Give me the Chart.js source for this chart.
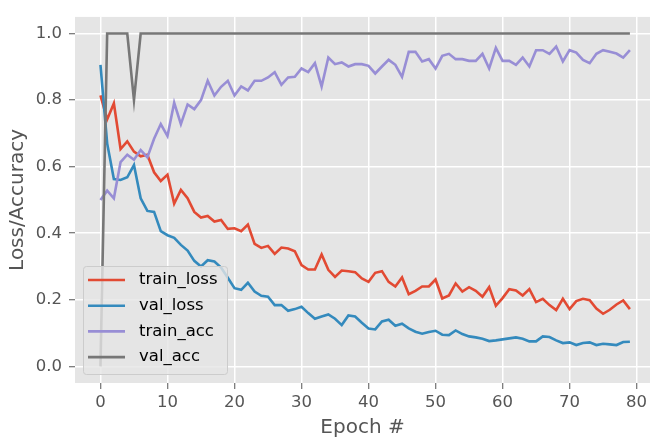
<!DOCTYPE html>
<html>
<head>
<meta charset="utf-8">
<script src="https://cdn.jsdelivr.net/npm/chart.js@4.4.1/dist/chart.umd.min.js"></script>
<style>
html,body{margin:0;padding:0;background:#fff;}
#wrap{width:654px;height:442px;}
</style>
</head>
<body>
<div id="wrap"><canvas id="c" width="654" height="442"></canvas></div>
<script>
const epochs = Array.from({length: 80}, (_, i) => i);
const seriesNames = ["train_loss", "val_loss", "train_acc", "val_acc"];
const trainLoss = [0.814,0.742,0.790,0.653,0.676,0.645,0.631,0.636,0.583,0.557,
0.576,0.489,0.530,0.505,0.464,0.447,0.452,0.435,0.440,0.413,
0.415,0.406,0.426,0.368,0.356,0.362,0.338,0.357,0.354,0.346,
0.304,0.291,0.291,0.336,0.290,0.269,0.288,0.286,0.283,0.264,
0.254,0.281,0.286,0.254,0.240,0.267,0.217,0.227,0.240,0.240,
0.261,0.204,0.213,0.249,0.225,0.238,0.227,0.209,0.238,0.182,
0.205,0.232,0.228,0.213,0.232,0.193,0.203,0.184,0.169,0.203,
0.172,0.196,0.203,0.199,0.174,0.158,0.170,0.186,0.198,0.172];
const valLoss = [0.906,0.670,0.563,0.560,0.568,0.605,0.505,0.467,0.464,0.406,
0.394,0.386,0.365,0.348,0.317,0.300,0.319,0.315,0.297,0.266,
0.235,0.230,0.251,0.225,0.212,0.209,0.184,0.184,0.167,0.172,
0.179,0.160,0.143,0.150,0.156,0.143,0.124,0.153,0.150,0.131,
0.114,0.111,0.135,0.140,0.122,0.128,0.114,0.104,0.098,0.103,
0.107,0.095,0.094,0.108,0.097,0.090,0.087,0.083,0.076,0.078,
0.081,0.084,0.087,0.083,0.075,0.075,0.090,0.088,0.078,0.070,
0.072,0.064,0.070,0.072,0.064,0.068,0.066,0.064,0.073,0.074];
const trainAcc = [0.500,0.528,0.505,0.614,0.636,0.621,0.650,0.628,0.684,0.728,
0.692,0.792,0.728,0.787,0.773,0.800,0.858,0.814,0.840,0.858,
0.814,0.841,0.829,0.858,0.858,0.868,0.884,0.846,0.868,0.870,
0.895,0.884,0.911,0.841,0.928,0.908,0.913,0.901,0.908,0.908,
0.903,0.880,0.901,0.921,0.906,0.870,0.945,0.945,0.916,0.923,
0.895,0.933,0.939,0.923,0.923,0.918,0.918,0.939,0.895,0.957,
0.918,0.918,0.906,0.928,0.901,0.950,0.950,0.939,0.961,0.916,
0.950,0.943,0.921,0.911,0.939,0.950,0.945,0.940,0.928,0.950];
const valAcc = [0.0,1.0,1.0,1.0,1.0,0.8,1.0,1.0,1.0,1.0,
1.0,1.0,1.0,1.0,1.0,1.0,1.0,1.0,1.0,1.0,
1.0,1.0,1.0,1.0,1.0,1.0,1.0,1.0,1.0,1.0,
1.0,1.0,1.0,1.0,1.0,1.0,1.0,1.0,1.0,1.0,
1.0,1.0,1.0,1.0,1.0,1.0,1.0,1.0,1.0,1.0,
1.0,1.0,1.0,1.0,1.0,1.0,1.0,1.0,1.0,1.0,
1.0,1.0,1.0,1.0,1.0,1.0,1.0,1.0,1.0,1.0,
1.0,1.0,1.0,1.0,1.0,1.0,1.0,1.0,1.0,1.0];
const xTicks = [0,10,20,30,40,50,60,70,80];
const yTicks = [0.0,0.2,0.4,0.6,0.8,1.0];
const xTitle = "Epoch #";
const yTitle = "Loss/Accuracy";

const colors = ["#E24A33", "#348ABD", "#988ED5", "#777777"];
const allSeries = [trainLoss, valLoss, trainAcc, valAcc];
const FONT = "DejaVu Sans";
const TICK_SIZE = 16.5, TITLE_SIZE = 20, LEGEND_SIZE = 16.5;
const LINE_W = 2.6;

const datasets = allSeries.map((vals, i) => ({
  label: seriesNames[i],
  data: vals.map((v, j) => ({x: epochs[j], y: v})),
  borderColor: colors[i],
  backgroundColor: colors[i],
  borderWidth: LINE_W,
  pointRadius: 0,
  tension: 0,
  fill: false,
  order: 4 - i
}));

const bgPlugin = {
  id: 'bg',
  beforeDraw(chart) {
    const {ctx, chartArea: a} = chart;
    ctx.save();
    ctx.fillStyle = '#E5E5E5';
    ctx.fillRect(a.left, a.top, a.right - a.left, a.bottom - a.top);
    ctx.restore();
  }
};

const legendPlugin = {
  id: 'mplLegend',
  afterDatasetsDraw(chart) {
    const {ctx, chartArea: a} = chart;
    const x0 = a.left + 8, w = 144, h = 108;
    const y0 = a.bottom - 9 - h;
    ctx.save();
    ctx.beginPath();
    ctx.roundRect(x0 + 0.5, y0 + 0.5, w, h, 3);
    ctx.fillStyle = 'rgba(229,229,229,0.8)';
    ctx.fill();
    ctx.strokeStyle = '#CCCCCC';
    ctx.lineWidth = 1;
    ctx.stroke();
    ctx.font = LEGEND_SIZE + 'px "' + FONT + '"';
    ctx.textBaseline = 'middle';
    ctx.textAlign = 'left';
    chart.data.datasets.forEach((ds, i) => {
      const cy = y0 + 14 + i * 25.7;
      ctx.beginPath();
      ctx.moveTo(x0 + 5, cy);
      ctx.lineTo(x0 + 42, cy);
      ctx.strokeStyle = ds.borderColor;
      ctx.lineWidth = LINE_W;
      ctx.stroke();
      ctx.fillStyle = '#000000';
      ctx.fillText(ds.label, x0 + 56, cy);
    });
    ctx.restore();
  }
};

new Chart(document.getElementById('c'), {
  type: 'line',
  data: {datasets},
  plugins: [bgPlugin, legendPlugin],
  options: {
    responsive: false,
    animation: false,
    devicePixelRatio: 1,
    layout: {padding: {top: 4, right: 4, left: 0, bottom: 0}},
    plugins: {legend: {display: false}, tooltip: {enabled: false}},
    scales: {
      x: {
        type: 'linear',
        min: -3.8, max: 82,
        afterBuildTicks: s => { s.ticks = xTicks.map(v => ({value: v})); },
        afterFit: s => { s.height = 59; },
        grid: {color: '#FFFFFF', lineWidth: 1.5, tickColor: '#555555', tickLength: 6, tickWidth: 1},
        border: {display: false},
        ticks: {color: '#555555', font: {family: FONT, size: TICK_SIZE}, padding: 4, autoSkip: false, maxRotation: 0,
          callback: v => String(v)},
        title: {display: true, text: xTitle, color: '#555555', font: {family: FONT, size: TITLE_SIZE}, padding: {top: 0, bottom: 2}}
      },
      y: {
        type: 'linear',
        min: -0.05, max: 1.05,
        afterBuildTicks: s => { s.ticks = yTicks.map(v => ({value: v})); },
        afterFit: s => { s.width = 75; },
        grid: {color: '#FFFFFF', lineWidth: 1.5, tickColor: '#555555', tickLength: 6, tickWidth: 1},
        border: {display: false},
        ticks: {color: '#555555', font: {family: FONT, size: TICK_SIZE}, padding: 7,
          callback: v => Number(v).toFixed(1)},
        title: {display: true, text: yTitle, color: '#555555', font: {family: FONT, size: TITLE_SIZE}, padding: {top: 6, bottom: 0}}
      }
    }
  }
});
</script>
</body>
</html>
